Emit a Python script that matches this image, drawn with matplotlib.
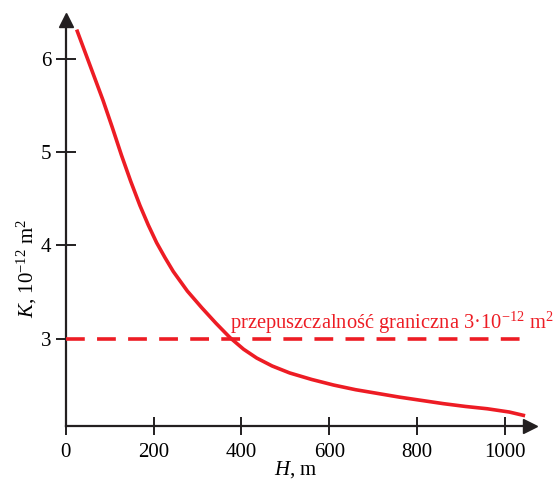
import matplotlib
matplotlib.use("Agg")
import matplotlib.pyplot as plt

plt.rcParams["font.family"] = "Liberation Serif"
plt.rcParams["mathtext.fontset"] = "custom"
plt.rcParams["mathtext.rm"] = "Liberation Serif"
plt.rcParams["mathtext.it"] = "Liberation Serif:italic"

# depth H (m) and permeability K (10^-12 m^2)
H = [25, 55, 85, 106, 127, 148, 169, 188, 207, 226, 245, 277, 310, 342,
     374, 405, 435, 470, 510, 560, 610, 660, 710, 760, 810, 860, 910, 960,
     1010, 1046]
K = [6.32, 5.94, 5.56, 5.27, 4.97, 4.69, 4.43, 4.22, 4.03, 3.87, 3.72,
     3.51, 3.33, 3.165, 3.01, 2.885, 2.79, 2.705, 2.63, 2.56, 2.50, 2.45,
     2.41, 2.37, 2.335, 2.30, 2.27, 2.245, 2.21, 2.17]

K_LIMIT = 3.0
LIMIT_H = [0, 1040]
X_TICKS = [0, 200, 400, 600, 800, 1000]
Y_TICKS = [3, 4, 5, 6]

RED = "#ed1c24"
DARK = "#231f20"

fig = plt.figure(figsize=(5.6, 4.83), dpi=100)
ax = fig.add_axes([0.1173, 0.119, 0.829, 0.839])

ax.plot(H, K, color=RED, lw=2.6, solid_capstyle="butt",
        solid_joinstyle="round", zorder=3)
ax.plot(LIMIT_H, [K_LIMIT, K_LIMIT], color=RED, lw=2.6,
        dashes=(5.2, 3.4), zorder=3)
ax.text(374, K_LIMIT + 0.105,
        "przepuszczalność graniczna 3·10$^{-12}$ m$^2$",
        color=RED, fontsize=14.8, ha="left", va="baseline")

ax.set_xlim(0, 1057)
ax.set_ylim(2.065, 6.42)

for s in ("top", "right"):
    ax.spines[s].set_visible(False)
for s in ("left", "bottom"):
    ax.spines[s].set_linewidth(1.6)
    ax.spines[s].set_color(DARK)

ax.plot(1, 0, ">", color=DARK, ms=10, transform=ax.transAxes, clip_on=False)
ax.plot(0, 1, "^", color=DARK, ms=10, transform=ax.transAxes, clip_on=False)

ax.set_xticks(X_TICKS)
ax.set_yticks(Y_TICKS)
ax.tick_params(axis="x", direction="inout", length=13, width=1.4,
               color=DARK, labelsize=15, pad=6)
ax.tick_params(axis="y", direction="inout", length=15, width=1.4,
               color=DARK, labelsize=15, pad=3)

fig.text(296 / 560, 1 - 470 / 483, "$H$, m", fontsize=15,
         ha="center", va="center")
fig.text(27 / 560, 1 - 268 / 483, "$K$, 10$^{-12}$ m$^2$", fontsize=15,
         ha="center", va="center", rotation=90)

fig.savefig("out.png", dpi=100)
